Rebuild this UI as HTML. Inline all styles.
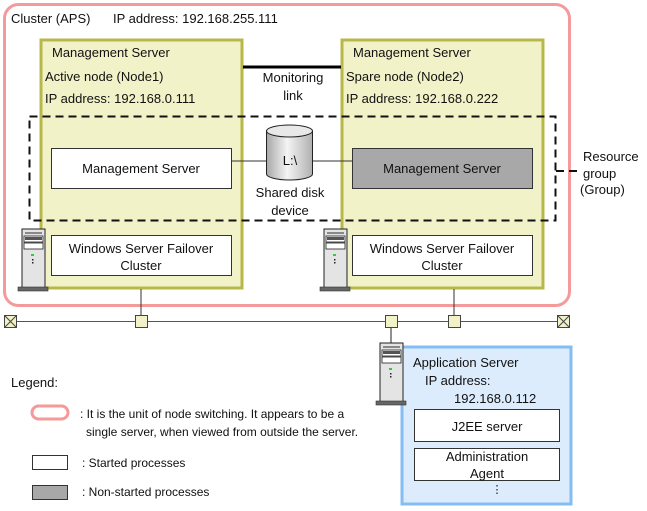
<!DOCTYPE html>
<html><head><meta charset="utf-8"><style>
body{margin:0;background:#fff}
svg{display:block}
text{font-family:"Liberation Sans",sans-serif;font-size:13px;fill:#111}
</style></head><body>
<svg width="647" height="511" viewBox="0 0 647 511" xmlns="http://www.w3.org/2000/svg">
<defs>
<linearGradient id="cyl" x1="0" x2="1" y1="0" y2="0">
<stop offset="0" stop-color="#a8a8a8"/><stop offset="0.45" stop-color="#f4f4f4"/><stop offset="1" stop-color="#b0b0b0"/>
</linearGradient>
<g id="srv">
<rect x="4" y="0" width="23" height="59" fill="#e4e4e4" stroke="#222" stroke-width="1"/>
<rect x="7" y="3" width="17" height="2" fill="#888"/>
<rect x="6" y="7" width="19" height="6" fill="#fff" stroke="#222" stroke-width="0.8"/>
<rect x="7" y="8" width="17" height="3" fill="#555"/>
<rect x="6" y="14" width="19" height="6" fill="#fff" stroke="#222" stroke-width="0.8"/>
<rect x="13" y="25" width="3" height="2" fill="#3c3"/>
<rect x="14" y="30" width="1.5" height="1.5" fill="#222"/>
<rect x="14" y="33" width="1.5" height="1.5" fill="#222"/>
<rect x="0" y="58" width="30" height="4" fill="#666" stroke="#333" stroke-width="0.6"/>
</g>
</defs>

<rect x="4.5" y="4.5" width="565" height="301" rx="14" fill="#fff" stroke="#f49a9a" stroke-width="3"/>
<text x="11" y="23">Cluster (APS)</text>
<text x="113" y="23">IP address: 192.168.255.111</text>

<rect x="41" y="40" width="201" height="248" fill="#f2f2c8" stroke="#b8b84a" stroke-width="3"/>
<rect x="342" y="40" width="201" height="248" fill="#f2f2c8" stroke="#b8b84a" stroke-width="3"/>
<text x="52" y="57">Management Server</text>
<text x="45" y="81">Active node (Node1)</text>
<text x="45" y="103">IP address: 192.168.0.111</text>
<text x="353" y="57">Management Server</text>
<text x="346" y="81">Spare node (Node2)</text>
<text x="346" y="103">IP address: 192.168.0.222</text>

<line x1="243" y1="67" x2="341" y2="67" stroke="#000" stroke-width="3"/>
<text x="293" y="82" text-anchor="middle">Monitoring</text>
<text x="293" y="100" text-anchor="middle">link</text>

<rect x="29.5" y="116.5" width="526" height="104" fill="none" stroke="#111" stroke-width="2" stroke-dasharray="8,5"/>
<line x1="556" y1="171" x2="581" y2="171" stroke="#111" stroke-width="2" stroke-dasharray="8,5"/>
<text x="583" y="161">Resource</text>
<text x="583" y="178">group</text>
<text x="580" y="194">(Group)</text>

<rect x="51.5" y="148.5" width="180" height="40" fill="#fff" stroke="#333"/>
<text x="141" y="173" text-anchor="middle">Management Server</text>
<rect x="352.5" y="148.5" width="180" height="40" fill="#a8a8a8" stroke="#333"/>
<text x="442" y="173" text-anchor="middle">Management Server</text>

<line x1="232" y1="161" x2="267" y2="161" stroke="#333"/>
<line x1="313" y1="161" x2="352" y2="161" stroke="#333"/>
<path d="M266.5 131 L266.5 174 A23 6 0 0 0 312.5 174 L312.5 131" fill="url(#cyl)" stroke="#222"/>
<ellipse cx="289.5" cy="131" rx="23" ry="6" fill="#e8e8e8" stroke="#222"/>
<text x="290" y="165" text-anchor="middle">L:\</text>
<text x="290" y="197" text-anchor="middle">Shared disk</text>
<text x="290" y="215" text-anchor="middle">device</text>

<rect x="51.5" y="235.5" width="180" height="40" fill="#fff" stroke="#333"/>
<text x="141" y="253" text-anchor="middle">Windows Server Failover</text>
<text x="141" y="270" text-anchor="middle">Cluster</text>
<rect x="352.5" y="235.5" width="180" height="40" fill="#fff" stroke="#333"/>
<text x="442" y="253" text-anchor="middle">Windows Server Failover</text>
<text x="442" y="270" text-anchor="middle">Cluster</text>

<use href="#srv" x="18" y="229"/>
<use href="#srv" x="320" y="229"/>

<line x1="141" y1="289" x2="141" y2="316" stroke="#333"/>
<line x1="454" y1="289" x2="454" y2="316" stroke="#333"/>
<line x1="391" y1="327" x2="391" y2="343" stroke="#222"/>
<line x1="16" y1="321.5" x2="558" y2="321.5" stroke="#555"/>
<g fill="#f2f2c8" stroke="#444">
<rect x="4.5" y="315.5" width="12" height="12"/>
<rect x="557.5" y="315.5" width="12" height="12"/>
<rect x="135.5" y="315.5" width="12" height="12"/>
<rect x="385.5" y="315.5" width="12" height="12"/>
<rect x="448.5" y="315.5" width="12" height="12"/>
</g>
<path d="M4.5 315.5 L16.5 327.5 M16.5 315.5 L4.5 327.5 M557.5 315.5 L569.5 327.5 M569.5 315.5 L557.5 327.5" stroke="#444"/>

<rect x="402" y="347" width="169" height="157" fill="#dcecfc" stroke="#84bcf4" stroke-width="3"/>
<use href="#srv" x="376" y="343"/>
<text x="413" y="367">Application Server</text>
<text x="425" y="385">IP address:</text>
<text x="454" y="403">192.168.0.112</text>
<rect x="414.5" y="409.5" width="145" height="32" fill="#fff" stroke="#333"/>
<text x="487" y="431" text-anchor="middle">J2EE server</text>
<rect x="414.5" y="448.5" width="145" height="32" fill="#fff" stroke="#333"/>
<text x="487" y="461" text-anchor="middle">Administration</text>
<text x="487" y="478" text-anchor="middle">Agent</text>
<text x="497" y="493" text-anchor="middle" style="font-size:11px">⋮</text>

<text x="11" y="387">Legend:</text>
<rect x="32" y="406" width="36" height="13" rx="6.5" fill="#fff" stroke="#f49a9a" stroke-width="3"/>
<text x="80" y="418" style="font-size:12px">: It is the unit of node switching. It appears to be a</text>
<text x="86" y="436" style="font-size:12px">single server, when viewed from outside the server.</text>
<rect x="32.5" y="455.5" width="35" height="14" fill="#fff" stroke="#333"/>
<text x="82" y="467" style="font-size:12px">: Started processes</text>
<rect x="32.5" y="485.5" width="35" height="14" fill="#a8a8a8" stroke="#333"/>
<text x="82" y="496" style="font-size:12px">: Non-started processes</text>
</svg>
</body></html>
